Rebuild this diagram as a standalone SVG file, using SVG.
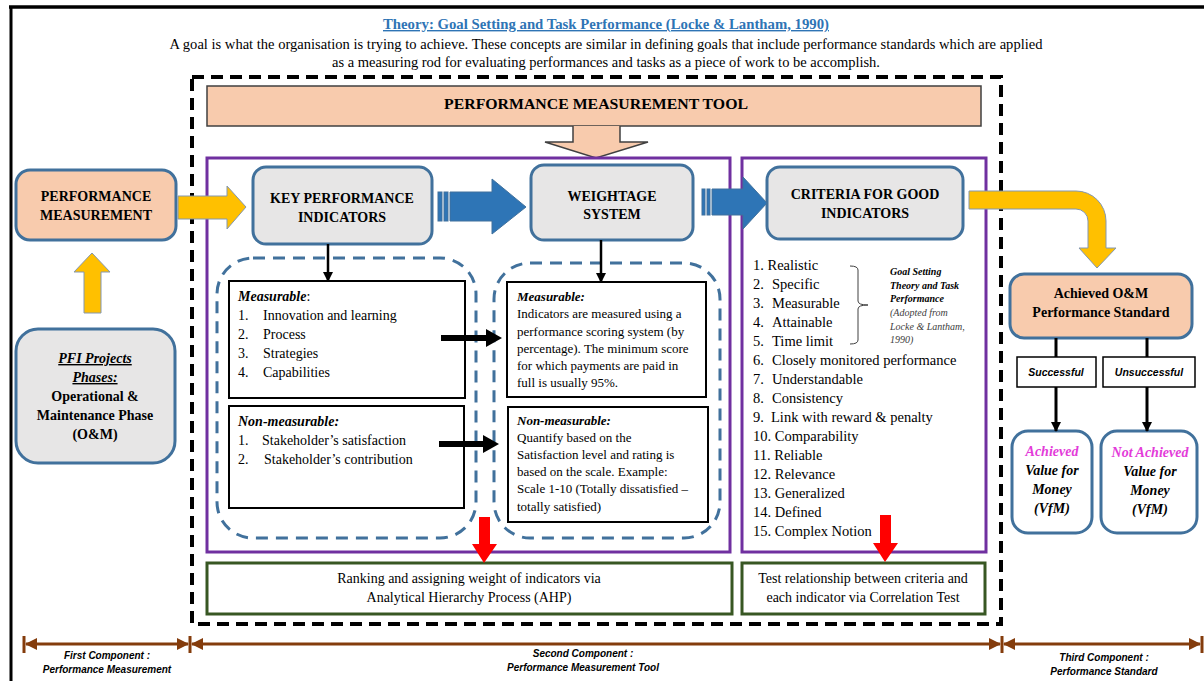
<svg xmlns="http://www.w3.org/2000/svg" width="1204" height="681" viewBox="0 0 1204 681">
<style>
.serif{font-family:"Liberation Serif","Times New Roman",serif}
.sans{font-family:"Liberation Sans",Arial,sans-serif}
.b{font-weight:bold}
.i{font-style:italic}
.node{stroke:#41719C;stroke-width:3}
.peach{fill:#F8CBAD}
.grey{fill:#E7E6E6}
.txt{font-size:14px;fill:#000}
.dash{fill:none;stroke:#41719C;stroke-width:3;stroke-dasharray:12 8}
.inner{fill:#fff;stroke:#000;stroke-width:2}
.purple{fill:none;stroke:#7030A0;stroke-width:3}
.green{fill:#fff;stroke:#385723;stroke-width:3}
.yellow{fill:#FFC000;stroke:#8497B0;stroke-width:1}
.blue{fill:#2E75B6;stroke:#41719C;stroke-width:1}
.red{fill:#FF0000}
.brown{stroke:#843C0C;stroke-width:3;fill:none}
</style>
<defs>
<marker id="ah" markerWidth="10" markerHeight="10" refX="9" refY="5" orient="auto" markerUnits="userSpaceOnUse">
<path d="M0,0 L10,5 L0,10 Z" fill="#000"/>
</marker>
<marker id="bh" markerWidth="12" markerHeight="12" refX="11" refY="6" orient="auto-start-reverse" markerUnits="userSpaceOnUse">
<path d="M0,0 L12,6 L0,12 Z" fill="#843C0C"/>
</marker>
</defs>
<rect width="1204" height="681" fill="#fff"/>
<!-- frame -->
<line x1="9" y1="7" x2="1204" y2="7" stroke="#000" stroke-width="3.5"/>
<line x1="11" y1="6" x2="11" y2="681" stroke="#000" stroke-width="3"/>

<g id="header">
<text class="serif b" x="606" y="29" text-anchor="middle" font-size="14" fill="#2E74B5" textLength="446" lengthAdjust="spacingAndGlyphs" text-decoration="underline">Theory:  Goal Setting and Task Performance (Locke &amp; Lantham, 1990)</text>
<text class="serif txt" x="606" y="49" text-anchor="middle" textLength="873" lengthAdjust="spacingAndGlyphs">A goal is what the organisation is trying to achieve. These concepts are similar in defining goals that include performance standards which are applied</text>
<text class="serif txt" x="606" y="67" text-anchor="middle" textLength="548" lengthAdjust="spacingAndGlyphs">as a measuring rod for evaluating performances and tasks as a piece of work to be accomplish.</text>
</g>

<!-- main dashed frame -->
<rect x="192" y="77" width="809" height="547" fill="none" stroke="#000" stroke-width="4" stroke-dasharray="12 7"/>

<g id="pmt">
<rect x="207" y="86" width="774" height="40" fill="#F8CBAD" stroke="#404040" stroke-width="1.5"/>
<text class="serif b" x="596" y="109" text-anchor="middle" font-size="15" textLength="304" lengthAdjust="spacingAndGlyphs">PERFORMANCE MEASUREMENT TOOL</text>
<path d="M573,126 V142 H545 L596,158 L648,142 H620 V126" fill="#F8CBAD" stroke="#404040" stroke-width="1.5"/>
</g>

<!-- purple frames -->
<rect class="purple" x="207" y="158" width="523" height="394"/>
<rect class="purple" x="742" y="158" width="244" height="394"/>

<g id="pm">
<rect class="node peach" x="16" y="170" width="160" height="70" rx="14"/>
<text class="serif b txt" x="96" y="201" text-anchor="middle">PERFORMANCE</text>
<text class="serif b txt" x="96" y="220" text-anchor="middle">MEASUREMENT</text>
</g>

<g id="pfi">
<rect class="node grey" x="16" y="329" width="159" height="134" rx="22"/>
<text class="serif b i txt" x="95" y="363" text-anchor="middle" text-decoration="underline">PFI Projects</text>
<text class="serif b i txt" x="95" y="382" text-anchor="middle" text-decoration="underline">Phases:</text>
<text class="serif b txt" x="95" y="401" text-anchor="middle">Operational &amp;</text>
<text class="serif b txt" x="95" y="420" text-anchor="middle">Maintenance Phase</text>
<text class="serif b txt" x="95" y="439" text-anchor="middle">(O&amp;M)</text>
</g>

<g id="kpi">
<rect class="node grey" x="253" y="167" width="179" height="77" rx="13"/>
<text class="serif b txt" x="342" y="203" text-anchor="middle">KEY PERFORMANCE</text>
<text class="serif b txt" x="342" y="222" text-anchor="middle">INDICATORS</text>
</g>

<g id="weightage">
<rect class="node grey" x="531" y="165" width="162" height="75" rx="13"/>
<text class="serif b txt" x="612" y="201" text-anchor="middle">WEIGHTAGE</text>
<text class="serif b txt" x="612" y="219" text-anchor="middle">SYSTEM</text>
</g>

<g id="criteria">
<rect class="node grey" x="767" y="167" width="196" height="72" rx="13"/>
<text class="serif b txt" x="865" y="199" text-anchor="middle">CRITERIA FOR GOOD</text>
<text class="serif b txt" x="865" y="218" text-anchor="middle">INDICATORS</text>
</g>

<g id="kpi-groups">
<rect class="dash" x="217" y="258" width="259" height="280" rx="36"/>
<rect class="inner" x="229" y="281" width="236" height="117"/>
<text class="serif txt" x="238" y="301"><tspan class="b i">Measurable</tspan>:</text>
<text class="serif txt" x="238" y="320">1.</text><text class="serif txt" x="263" y="320">Innovation and learning</text>
<text class="serif txt" x="238" y="339">2.</text><text class="serif txt" x="263" y="339">Process</text>
<text class="serif txt" x="238" y="358">3.</text><text class="serif txt" x="263" y="358">Strategies</text>
<text class="serif txt" x="238" y="377">4.</text><text class="serif txt" x="263" y="377">Capabilities</text>
<rect class="inner" x="229" y="406" width="235" height="102"/>
<text class="serif b i txt" x="238" y="426">Non-measurable:</text>
<text class="serif txt" x="238" y="445">1.</text><text class="serif txt" x="262" y="445">Stakeholder’s satisfaction</text>
<text class="serif txt" x="238" y="464">2.</text><text class="serif txt" x="264" y="464">Stakeholder’s contribution</text>
</g>

<g id="weight-groups">
<rect class="dash" x="494" y="263" width="226" height="275" rx="36"/>
<rect class="inner" x="507" y="282" width="199" height="115"/>
<g class="serif" font-size="13">
<text class="b i" x="517" y="301">Measurable:</text>
<text x="517" y="318">Indicators are measured using a</text>
<text x="517" y="336">performance scoring system (by</text>
<text x="517" y="353">percentage).  The minimum score</text>
<text x="517" y="370">for which payments are paid in</text>
<text x="517" y="387">full is usually 95%.</text>
</g>
<rect class="inner" x="508" y="407" width="200" height="115"/>
<g class="serif" font-size="13">
<text class="b i" x="517" y="425">Non-measurable:</text>
<text x="517" y="442">Quantify based on the</text>
<text x="517" y="459">Satisfaction level and rating is</text>
<text x="517" y="476">based on the scale. Example:</text>
<text x="517" y="493">Scale 1-10 (Totally dissatisfied –</text>
<text x="517" y="511">totally satisfied)</text>
</g>
</g>

<g id="criteria-list" class="serif" font-size="14.5">
<text x="753" y="270">1. Realistic</text>
<text x="753" y="289">2.</text><text x="772" y="289">Specific</text>
<text x="753" y="308">3.</text><text x="772" y="308">Measurable</text>
<text x="753" y="327">4.</text><text x="772" y="327">Attainable</text>
<text x="753" y="346">5.</text><text x="772" y="346">Time limit</text>
<text x="753" y="365">6.</text><text x="772" y="365">Closely monitored performance</text>
<text x="753" y="384">7.</text><text x="772" y="384">Understandable</text>
<text x="753" y="403">8.</text><text x="772" y="403">Consistency</text>
<text x="753" y="422">9.</text><text x="771" y="422">Link with reward &amp; penalty</text>
<text x="753" y="441">10. Comparability</text>
<text x="753" y="460">11. Reliable</text>
<text x="753" y="479">12. Relevance</text>
<text x="753" y="498">13. Generalized</text>
<text x="753" y="517">14. Defined</text>
<text x="753" y="536">15. Complex Notion</text>
<path d="M850,266 Q858,266 858,270 V301 Q858,305 868,305 Q858,305 858,309 V340 Q858,344 850,344" fill="none" stroke="#404040" stroke-width="1"/>
<g font-size="10">
<text class="b i" x="890" y="275">Goal Setting</text>
<text class="b i" x="890" y="289">Theory and Task</text>
<text class="b i" x="890" y="302">Performance</text>
<text class="i" x="890" y="316" fill="#404040">(Adopted from</text>
<text class="i" x="890" y="330" fill="#404040">Locke &amp; Lantham,</text>
<text class="i" x="890" y="343" fill="#404040">1990)</text>
</g>
</g>

<g id="ahp">
<rect class="green" x="207" y="563" width="525" height="51"/>
<text class="serif txt" x="469" y="583" text-anchor="middle">Ranking and assigning weight of indicators via</text>
<text class="serif txt" x="469" y="602" text-anchor="middle">Analytical  Hierarchy Process (AHP)</text>
</g>

<g id="corr">
<rect class="green" x="742" y="563" width="243" height="51"/>
<text class="serif txt" x="863" y="583" text-anchor="middle">Test relationship between criteria and</text>
<text class="serif txt" x="863" y="602" text-anchor="middle">each indicator via Correlation Test</text>
</g>

<g id="achieved-standard">
<rect class="node peach" x="1010" y="274" width="182" height="64" rx="14"/>
<text class="serif b txt" x="1101" y="298" text-anchor="middle">Achieved O&amp;M</text>
<text class="serif b txt" x="1101" y="317" text-anchor="middle">Performance Standard</text>
</g>

<g id="successful">
<rect x="1017" y="357" width="79" height="30" fill="#fff" stroke="#000" stroke-width="1.5"/>
<text class="sans b i" x="1056" y="376" text-anchor="middle" font-size="10.5">Successful</text>
</g>
<g id="unsuccessful">
<rect x="1103" y="357" width="92" height="30" fill="#fff" stroke="#000" stroke-width="1.5"/>
<text class="sans b i" x="1149" y="376" text-anchor="middle" font-size="10.5">Unsuccessful</text>
</g>

<g id="vfm-achieved">
<rect class="node" fill="#fff" x="1012" y="431" width="80" height="102" rx="16"/>
<g class="serif b i txt" text-anchor="middle">
<text x="1052" y="456" fill="#E33BD9">Achieved</text>
<text x="1052" y="475">Value for</text>
<text x="1052" y="494">Money</text>
<text x="1052" y="513">(VfM)</text>
</g>
</g>
<g id="vfm-not">
<rect class="node" fill="#fff" x="1101" y="431" width="96" height="102" rx="16"/>
<g class="serif b i txt" text-anchor="middle">
<text x="1150" y="457" fill="#E33BD9">Not Achieved</text>
<text x="1150" y="476">Value for</text>
<text x="1150" y="495">Money</text>
<text x="1150" y="514">(VfM)</text>
</g>
</g>

<g id="connectors">
<path class="yellow" d="M84,313 V272 H74 L92,253 L110,272 H101 V313 Z"/>
<path class="yellow" d="M178,196 H227 V186 L246,207 L227,229 V219 H178 Z"/>
<path class="yellow" d="M969,191 H1076 A30,30 0 0 1 1106,221 V248 H1116 L1097,268 L1079,248 H1088 V221 A12,12 0 0 0 1076,209 H969 Z"/>
<rect class="blue" x="438" y="192" width="4" height="29"/>
<rect class="blue" x="444" y="192" width="4" height="29"/>
<path class="blue" d="M450,192 H492 V179 L526,207 L492,234 V221 H450 Z"/>
<rect class="blue" x="702" y="189" width="3" height="26"/>
<rect class="blue" x="707" y="189" width="3" height="26"/>
<path class="blue" d="M712,189 H743 V177 L767,203 L743,229 V215 H712 Z"/>
<line x1="328" y1="244" x2="328" y2="281" stroke="#000" stroke-width="2.5" marker-end="url(#ah)"/>
<line x1="601" y1="240" x2="601" y2="282" stroke="#000" stroke-width="2.5" marker-end="url(#ah)"/>
<path d="M441,335 H486 V329 L502,338 L486,347 V341 H441 Z" fill="#000"/>
<path d="M439,441 H483 V435 L499,444 L483,453 V447 H439 Z" fill="#000"/>
<line x1="1056" y1="338" x2="1056" y2="357" stroke="#000" stroke-width="3"/>
<line x1="1147" y1="338" x2="1147" y2="357" stroke="#000" stroke-width="3"/>
<line x1="1056" y1="387" x2="1056" y2="431" stroke="#000" stroke-width="3" marker-end="url(#ah)"/>
<line x1="1147" y1="387" x2="1147" y2="431" stroke="#000" stroke-width="3" marker-end="url(#ah)"/>
<path class="red" d="M479,517 H490 V544 H497 L484,563 L472,544 H479 Z"/>
<path class="red" d="M880,515 H891 V543 H898 L885,562 L873,543 H880 Z"/>
</g>

<g id="components">
<line class="brown" x1="24" y1="636" x2="24" y2="653"/>
<line class="brown" x1="190" y1="636" x2="190" y2="653"/>
<line class="brown" x1="1002" y1="636" x2="1002" y2="653"/>
<line class="brown" x1="1202" y1="636" x2="1202" y2="653"/>
<line class="brown" x1="26" y1="644" x2="188" y2="644" marker-start="url(#bh)" marker-end="url(#bh)"/>
<line class="brown" x1="192" y1="644" x2="1000" y2="644" marker-start="url(#bh)" marker-end="url(#bh)"/>
<line class="brown" x1="1004" y1="644" x2="1200" y2="644" marker-start="url(#bh)" marker-end="url(#bh)"/>
<g class="sans b i" font-size="10" text-anchor="middle">
<text x="107" y="659">First Component :</text>
<text x="107" y="673">Performance Measurement</text>
<text x="583" y="657">Second Component :</text>
<text x="583" y="671">Performance Measurement Tool</text>
<text x="1104" y="661">Third Component :</text>
<text x="1104" y="675">Performance Standard</text>
</g>
</g>
</svg>
